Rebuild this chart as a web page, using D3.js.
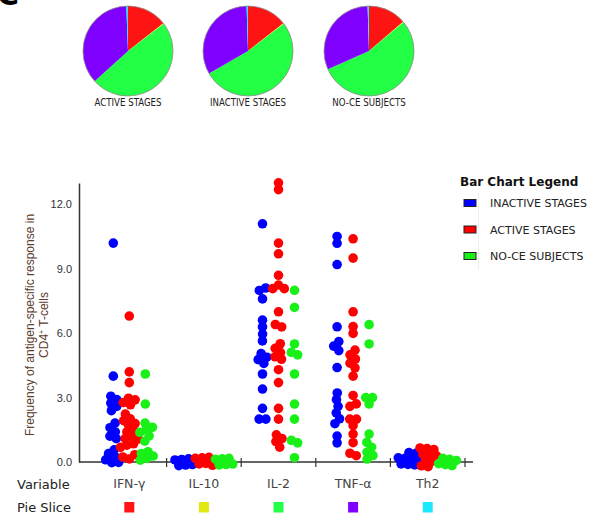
<!DOCTYPE html>
<html>
<head>
<meta charset="utf-8">
<script src="https://cdn.jsdelivr.net/npm/d3@7"></script>
<style>
  body { margin: 0; background: #fff; }
  svg { display: block; font-family: "DejaVu Sans", sans-serif; }
</style>
</head>
<body>
<svg id="chart" width="600" height="518"></svg>
<script>
// categories and series
const categories = ["IFN-γ", "IL-10", "IL-2", "TNF-α", "Th2"];
const seriesNames = ["INACTIVE STAGES", "ACTIVE STAGES", "NO-CE SUBJECTS"];

// responses per category, one array per group
const inactiveVals = [
  [10.2, 4.0, 3.0, 2.9, 2.8, 2.6, 2.4, 1.8, 1.6, 1.4, 1.2, 1.1, 0.5, 0.4, 0.3, 0.1, 0.0, 0.0],
  [0, 0, 0, 0, 0, 0],
  [11.1, 8.1, 8.0, 7.6, 6.6, 6.3, 5.9, 5.7, 5.0, 4.9, 4.8, 4.6, 4.1, 3.4, 2.5, 2.0, 2.0],
  [10.5, 10.2, 9.2, 6.3, 5.6, 5.4, 5.2, 4.4, 3.2, 2.9, 2.6, 2.3, 2.0, 1.8, 1.2, 0.9],
  [0.35, 0.3, 0.2, 0.15, 0.1, 0.05, 0, 0, 0]
];
const activeVals = [
  [6.8, 4.2, 3.7, 2.9, 2.9, 2.8, 2.7, 2.2, 2.0, 1.9, 1.8, 1.7, 1.5, 1.4, 1.2, 1.1, 1.0, 0.9, 0.8, 0.7, 0.3, 0.2, 0.2],
  [0.15, 0.1, 0.05, 0, 0, 0],
  [13.0, 12.7, 10.2, 9.7, 8.7, 8.2, 8.1, 8.1, 7.0, 6.4, 6.3, 5.5, 5.3, 5.1, 4.9, 4.8, 4.3, 3.7, 2.5, 2.0, 1.2, 1.1, 1.0, 0.7],
  [10.4, 9.5, 7.0, 6.3, 6.0, 5.2, 5.0, 4.8, 4.6, 4.4, 4.0, 3.1, 2.7, 2.6, 2.0, 2.0, 1.7, 1.3, 0.9, 0.4, 0.3],
  [0.55, 0.5, 0.45, 0.35, 0.3, 0.2, 0.1, 0.05, 0, 0]
];
const noCeVals = [
  [4.1, 2.7, 1.8, 1.6, 1.5, 1.4, 1.2, 1.0, 0.4, 0.4, 0.3, 0.2, 0.1],
  [0, 0, 0, 0, 0, 0],
  [8.0, 7.2, 5.5, 5.1, 5.0, 4.1, 2.7, 2.0, 1.0, 0.9, 0.2],
  [6.4, 5.5, 3.0, 3.0, 2.7, 1.3, 0.9, 0.7, 0.4, 0.3, 0.2],
  [0.05, 0, 0, 0, 0, 0]
];

// pie shares (percent) per cytokine, same order as categories
const pieLabels = ["ACTIVE STAGES", "INACTIVE STAGES", "NO-CE SUBJECTS"];
const pieActive = [14.4, 0.3, 48.6, 36.1, 0.6];
const pieInactive = [14.4, 0.3, 52.0, 32.8, 0.5];
const pieNoCe = [13.7, 0.3, 54.4, 31.1, 0.5];

const yTicks = [0, 3, 6, 9, 12];

const dotColors = ["#0000ff", "#ff0000", "#18f018"];
const sliceColors = ["#ff1414", "#e2e812", "#22ff44", "#8000ff", "#1ee8ff"];

const svg = d3.select("#chart");

// panel letter, cut off at the top (as in the figure)
svg.append("text")
  .attr("x", -3).attr("y", 5)
  .style("font-size", "30px").style("font-weight", "bold")
  .text("C");

// ---- pies ----
const pie = d3.pie().sort(null).value(d => d);
const arc = d3.arc().innerRadius(0).outerRadius(45);
const pieCenters = [128, 248, 369];

[pieActive, pieInactive, pieNoCe].forEach((vals, i) => {
  const g = svg.append("g").attr("transform", `translate(${pieCenters[i]},51)`);
  g.selectAll("path")
    .data(pie(vals))
    .enter().append("path")
    .attr("d", arc)
    .attr("fill", (d, j) => sliceColors[j]);
  g.append("circle").attr("r", 45)
    .attr("fill", "none").attr("stroke", "#8a8a8a").attr("stroke-width", 0.8);
  g.append("text")
    .attr("y", 55)
    .attr("text-anchor", "middle")
    .style("font-family", "'DejaVu Sans Condensed', sans-serif")
    .style("font-size", "9.6px")
    .attr("fill", "#222")
    .text(pieLabels[i]);
});

// ---- strip chart ----
const x = d3.scaleBand()
  .domain(categories)
  .range([92, 465]);

const sub = d3.scalePoint()
  .domain(seriesNames)
  .range([-16, 16]);

const y = d3.scaleLinear()
  .domain([0, 13])
  .range([462, 183]);

// y axis
const yAxis = svg.append("g")
  .attr("transform", "translate(79,0)")
  .call(d3.axisLeft(y).tickValues(yTicks).tickFormat(d3.format(".1f")).tickSize(0).tickPadding(7));
yAxis.select(".domain").attr("stroke", "#333").attr("stroke-width", 1.5);
yAxis.selectAll("text").style("font-size", "11px").attr("fill", "#333");

// x axis line with ticks on band boundaries
svg.append("line")
  .attr("x1", 79).attr("x2", 473)
  .attr("y1", y(0)).attr("y2", y(0))
  .attr("stroke", "#333").attr("stroke-width", 1.5);
svg.selectAll(".xtick")
  .data(categories)
  .enter().append("line")
  .attr("class", "xtick")
  .attr("x1", d => x(d) + x.bandwidth()).attr("x2", d => x(d) + x.bandwidth())
  .attr("y1", y(0) - 4).attr("y2", y(0) + 5)
  .attr("stroke", "#333").attr("stroke-width", 1.2);

// y label
const yl = svg.append("text")
  .attr("transform", "translate(34,325) rotate(-90)")
  .attr("text-anchor", "middle")
  .style("font-family", "'Liberation Sans', Arial, sans-serif")
  .style("font-size", "12px")
  .attr("fill", "#5c3d2e");
yl.append("tspan").attr("x", 0).attr("y", 0).text("Frequency of antigen-specific response in");
const yl2 = yl.append("tspan").attr("x", 0).attr("y", 14);
yl2.append("tspan").text("CD4");
yl2.append("tspan").attr("dy", -4).style("font-size", "7px").text("+");
yl2.append("tspan").attr("dy", 4).text(" T-cells");

// dots, laid out as a beeswarm
const groups = [inactiveVals, activeVals, noCeVals];
const nodes = [];
groups.forEach((vals, si) => {
  categories.forEach((c, ci) => {
    vals[ci].forEach(v => {
      const tx = x(c) + x.bandwidth() / 2 + sub(seriesNames[si]);
      nodes.push({ si, v, tx, ty: y(v), x: tx, y: y(v) });
    });
  });
});

d3.forceSimulation(nodes)
  .force("x", d3.forceX(d => d.tx).strength(0.12))
  .force("y", d3.forceY(d => d.ty).strength(0.9))
  .force("collide", d3.forceCollide(3.4))
  .stop()
  .tick(250);

svg.append("g").selectAll("circle")
  .data(nodes)
  .enter().append("circle")
  .attr("cx", d => d.x)
  .attr("cy", d => d.y)
  .attr("r", 4.8)
  .attr("fill", d => dotColors[d.si]);

// bottom rows
svg.append("text").attr("x", 17).attr("y", 489)
  .style("font-size", "13px").attr("fill", "#222").text("Variable");
svg.append("text").attr("x", 17).attr("y", 512)
  .style("font-size", "13px").attr("fill", "#222").text("Pie Slice");

svg.selectAll(".catlabel")
  .data(categories)
  .enter().append("text")
  .attr("class", "catlabel")
  .attr("x", d => x(d) + x.bandwidth() / 2)
  .attr("y", 488)
  .attr("text-anchor", "middle")
  .style("font-size", "12.5px")
  .attr("fill", "#444")
  .text(d => d);

svg.selectAll(".slicekey")
  .data(categories)
  .enter().append("rect")
  .attr("class", "slicekey")
  .attr("x", d => x(d) + x.bandwidth() / 2 - 5)
  .attr("y", 502)
  .attr("width", 10).attr("height", 10.5)
  .attr("fill", (d, i) => sliceColors[i]);

// legend
const legend = svg.append("g");
legend.append("text")
  .attr("x", 460).attr("y", 186)
  .style("font-size", "12px").style("font-weight", "bold")
  .attr("fill", "#111")
  .text("Bar Chart Legend");
legend.append("line")
  .attr("x1", 478.5).attr("x2", 478.5).attr("y1", 193).attr("y2", 270)
  .attr("stroke", "#eee");
const items = legend.selectAll(".item")
  .data(seriesNames)
  .enter().append("g")
  .attr("class", "item")
  .attr("transform", (d, i) => `translate(0,${203 + i * 26.5})`);
items.append("rect")
  .attr("x", 464).attr("y", -3.5)
  .attr("width", 12).attr("height", 7)
  .attr("fill", (d, i) => dotColors[i])
  .attr("stroke", "#222").attr("stroke-width", 1);
items.append("text")
  .attr("x", 490).attr("y", 4)
  .style("font-size", "11px").attr("fill", "#222")
  .text(d => d);
</script>
</body>
</html>
